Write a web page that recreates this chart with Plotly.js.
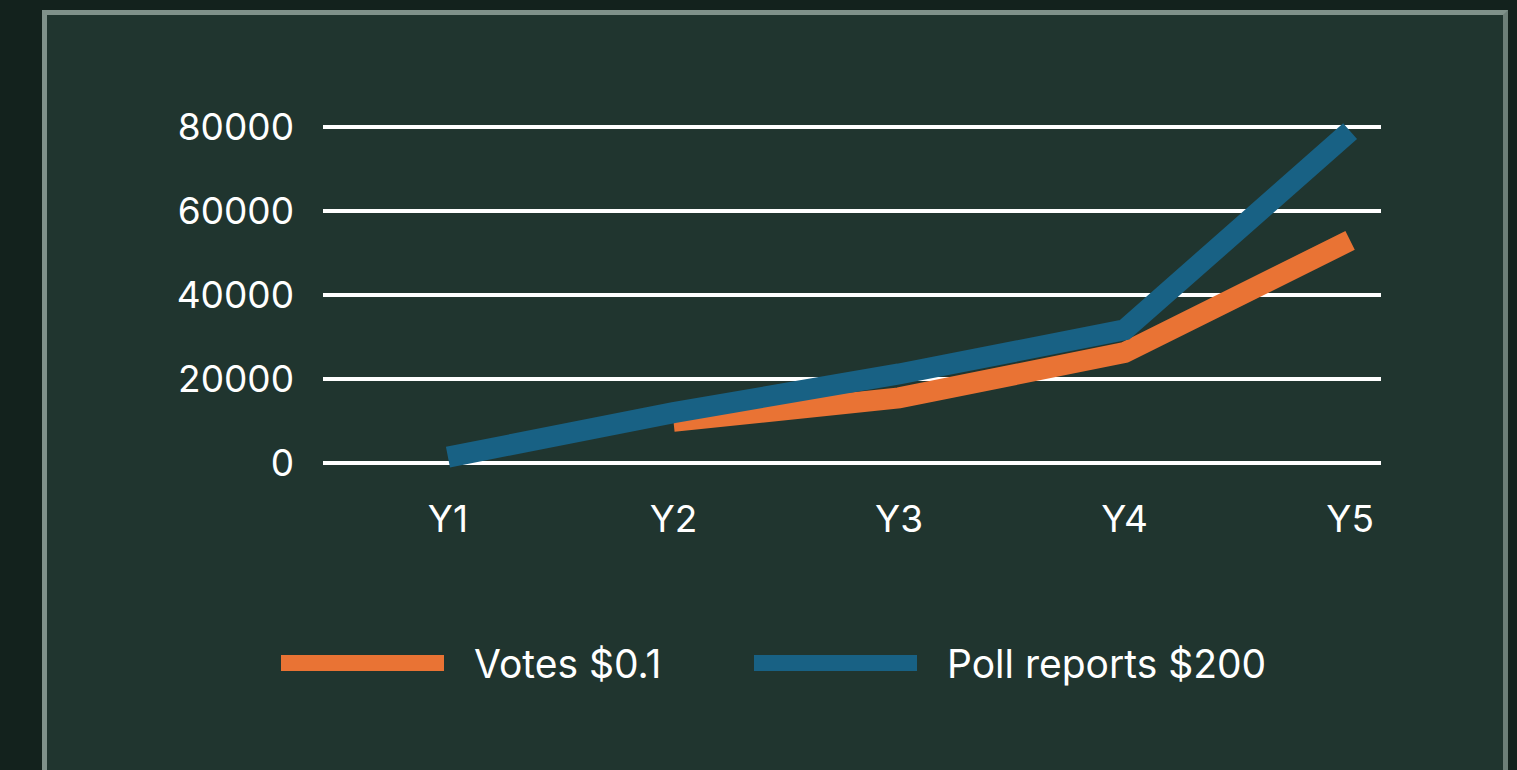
<!DOCTYPE html>
<html>
<head>
<meta charset="utf-8">
<script src="https://cdn.plot.ly/plotly-3.0.1.min.js"></script>
<style>
  html, body { margin: 0; padding: 0; width: 1517px; height: 770px; overflow: hidden; background: #13221d; }
  #frame { position: absolute; left: 42px; top: 10px; width: 1456px; height: 780px;
           border: 5px solid #7f918a; border-right-color: #6d7f78;
           background: #20352f; box-sizing: content-box; }
  #chart { position: absolute; left: 0; top: 0; width: 1517px; height: 770px; }
</style>
</head>
<body>
<div id="frame"></div>
<div id="chart"></div>
<script>
// ---- data ----
const categories = ["Y1", "Y2", "Y3", "Y4", "Y5"];
const votesName = "Votes $0.1";
const votesValues = [null, 9900, 15500, 26300, 53000];
const pollName = "Poll reports $200";
const pollValues = [1400, 12000, 21200, 31700, 79000];
const yTickValues = [0, 20000, 40000, 60000, 80000];
const yTickLabels = ["0", "20000", "40000", "60000", "80000"];

// ---- styles ----
const ORANGE = "#e97334";
const BLUE = "#186184";
const FONT = "Inter, 'Noto Sans', sans-serif";

const W = 1517, H = 770;
const margin = { l: 323, r: 136, t: 97, b: 277 };
const pw = W - margin.l - margin.r, ph = H - margin.t - margin.b;
const px = x => (x - margin.l) / pw;
const py = y => 1 - (y - margin.t) / ph;

const traces = [
  { x: categories, y: votesValues, type: "scatter", mode: "lines", name: votesName,
    line: { color: ORANGE, width: 21 }, connectgaps: false, hoverinfo: "x+y" },
  { x: categories, y: pollValues, type: "scatter", mode: "lines", name: pollName,
    line: { color: BLUE, width: 21 }, hoverinfo: "x+y" }
];

const legendItems = [
  { name: votesName, color: ORANGE, x0: 281, x1: 444, tx: 472 },
  { name: pollName, color: BLUE, x0: 754, x1: 917, tx: 945 }
];
const shapes = legendItems.map(it => ({
  type: "rect", xref: "paper", yref: "paper",
  x0: px(it.x0), x1: px(it.x1), y0: py(655), y1: py(671),
  fillcolor: it.color, line: { width: 0 }
}));
const annotations = legendItems.map(it => ({
  xref: "paper", yref: "paper", x: px(it.tx), y: py(663),
  xanchor: "left", yanchor: "middle", showarrow: false, text: it.name,
  font: { family: FONT, size: 39, color: "#ffffff" }
}));

const layout = {
  width: W, height: H,
  margin: margin,
  paper_bgcolor: "rgba(0,0,0,0)",
  plot_bgcolor: "rgba(0,0,0,0)",
  showlegend: false,
  xaxis: {
    type: "category", range: [-0.554, 4.137],
    showgrid: false, zeroline: false, showline: false, ticks: "",
    tickfont: { family: FONT, size: 37, color: "#ffffff" },
    ticklabelstandoff: 1
  },
  yaxis: {
    range: [-7143, 87143],
    tickvals: yTickValues, ticktext: yTickLabels,
    showgrid: true, gridcolor: "#ffffff", gridwidth: 3.5,
    zeroline: false, showline: false, ticks: "",
    tickfont: { family: FONT, size: 37, color: "#ffffff" },
    ticklabelstandoff: 28
  },
  shapes: shapes,
  annotations: annotations
};

Plotly.newPlot("chart", traces, layout, { displayModeBar: false, staticPlot: true });
</script>
</body>
</html>
